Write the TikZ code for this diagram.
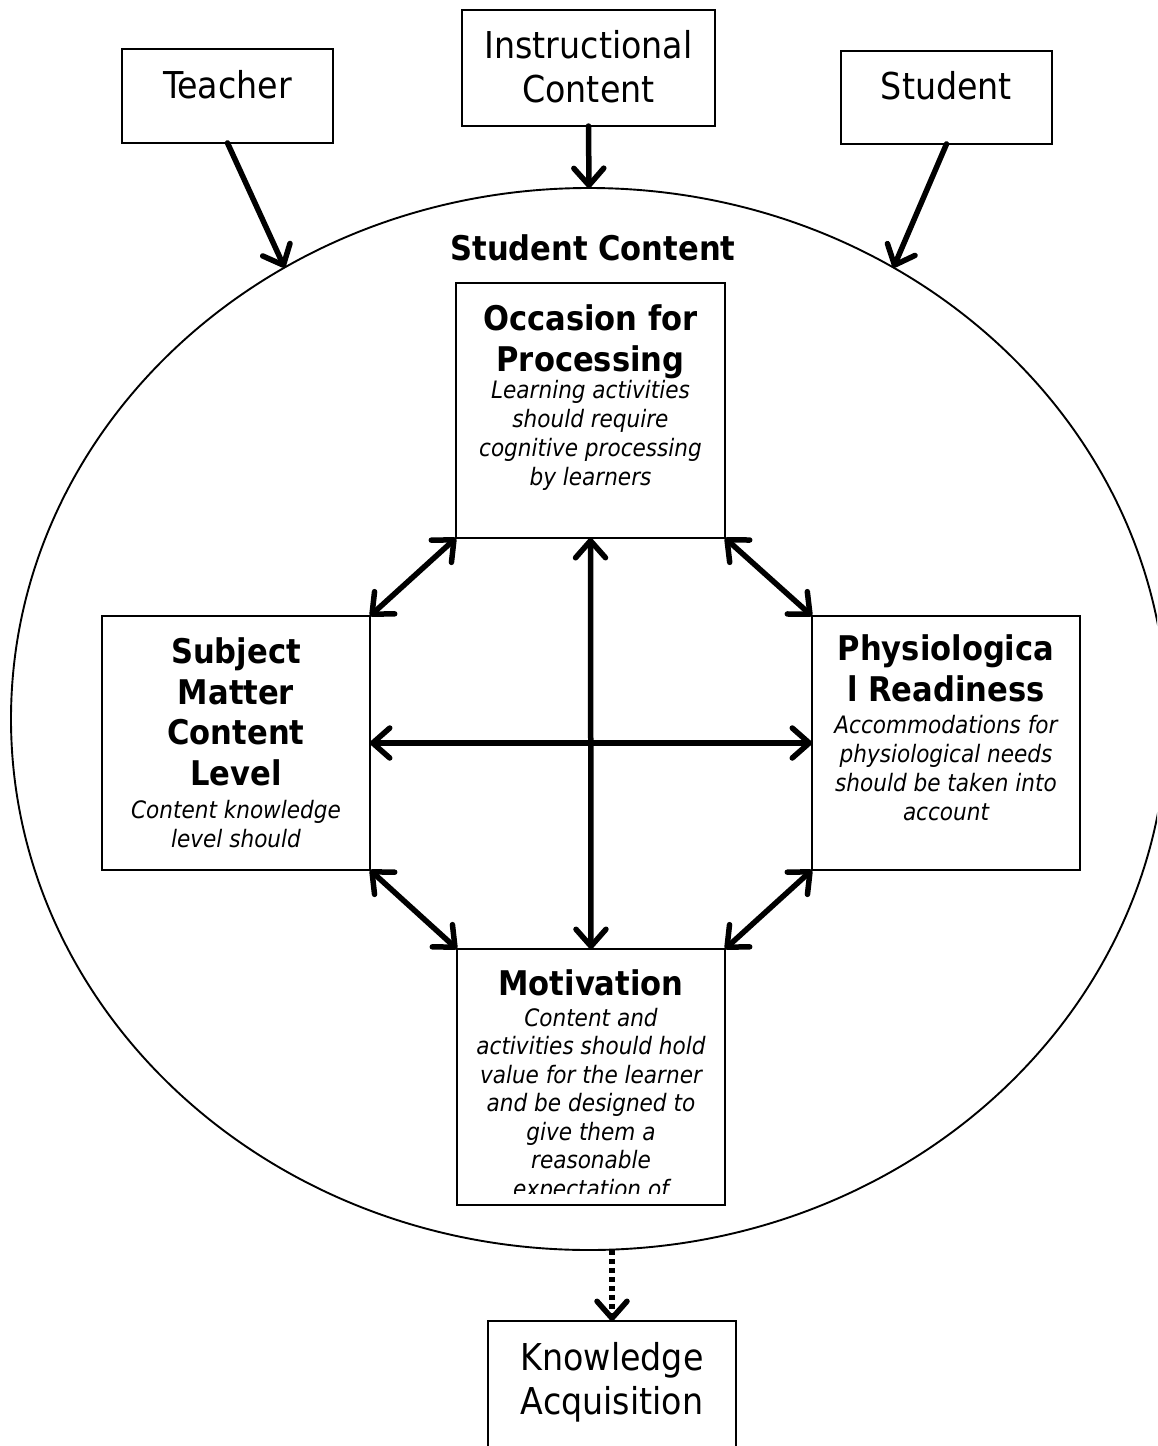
\documentclass[tikz,border=0pt]{standalone}
\usepackage{fontspec}
\setmainfont{DejaVu Sans Condensed}
\usetikzlibrary{arrows.meta,shapes.geometric}
\begin{document}
\begin{tikzpicture}[x=1pt,y=-1pt,
  box/.style={draw,line width=1.9pt,inner sep=0pt,outer sep=0pt},
  plain/.style={anchor=base,align=center,inner sep=0pt,font=\fontsize{37}{44}\selectfont},
  ttl/.style={anchor=base,align=center,inner sep=0pt,font=\bfseries\fontsize{34}{40.5}\selectfont},
  desc/.style={anchor=base,align=center,inner sep=0pt,font=\itshape\fontsize{24}{29}\selectfont},
  tip/.tip={Straight Barb[length=17pt,width=30pt,round]},
  arr/.style={line width=5.5pt,line cap=round,-tip},
  darr/.style={line width=5.5pt,line cap=round,tip-tip},
  dotarr/.style={line width=5.5pt,dash pattern=on 5pt off 4pt,-tip}]
\clip (0,0) rectangle (1157,1446);
\fill[white] (0,0) rectangle (1157,1446);
% big ellipse
\node[draw,ellipse,line width=1.9pt,inner sep=0pt,outer sep=0pt,minimum width=1156pt,minimum height=1062pt] (circ) at (589,719) {};
% top boxes
\node[box,minimum width=211pt,minimum height=94pt] (teacher) at (227.5,96) {};
\node[plain] (teacherT) at (227.5,98) {Teacher};
\node[box,minimum width=253pt,minimum height=116pt] (instr) at (588.5,68) {};
\node[plain] (instrT) at (588.5,102) {Instructional\\Content};
\node[box,minimum width=211pt,minimum height=93pt] (student) at (946.5,97.5) {};
\node[plain] (studentT) at (946.5,99) {Student};
% title
\node[anchor=base,inner sep=0pt,font=\bfseries\fontsize{34}{40}\selectfont] (sc) at (593,260) {Student Content};
% inner boxes
\node[box,minimum width=269pt,minimum height=255pt] (occ) at (590.5,410.5) {};
\node[ttl] (occT) at (590.5,371) {Occasion for\\Processing};
\node[desc] (occD) at (590.5,485) {Learning activities\\should require\\cognitive processing\\by learners};
\node[box,minimum width=268pt,minimum height=254pt] (subj) at (236,743) {};
\node[ttl] (subjT) at (236,785) {Subject\\Matter\\Content\\Level};
\node[desc] (subjD) at (236,847) {Content knowledge\\level should};
\node[box,minimum width=268pt,minimum height=254pt] (phys) at (946,743) {};
\node[ttl] (physT) at (946,701) {Physiologica\\l Readiness};
\node[desc] (physD) at (946,820) {Accommodations for\\physiological needs\\should be taken into\\account};
\node[box,minimum width=268pt,minimum height=256pt] (mot) at (591,1077) {};
\node[ttl] (motT) at (591,995) {Motivation};
\begin{scope}
\clip (458,950) rectangle (724,1193);
\node[desc,font=\itshape\fontsize{24}{28.5}\selectfont] (motD) at (591,1197) {Content and\\activities should hold\\value for the learner\\and be designed to\\give them a\\reasonable\\expectation of};
\end{scope}
% bottom box
\node[box,minimum width=248pt,minimum height=160pt] (ka) at (612,1401) {};
\node[plain] (kaT) at (612,1414) {Knowledge\\Acquisition};
% arrows into ellipse
\draw[arr] (teacher.south) -- (circ.124.4);
\draw[arr] (instr.south) -- (circ.north);
\draw[arr] (student.south) -- (circ.56.3);
% inner arrows
\draw[darr] (occ.south west) -- (subj.north east);
\draw[darr] (occ.south east) -- (phys.north west);
\draw[darr] (subj.south east) -- (mot.north west);
\draw[darr] (phys.south west) -- (mot.north east);
\draw[darr] (occ.south) -- (mot.north);
\draw[darr] (subj.east) -- (phys.west);
% dotted arrow out
\draw[dotarr] (circ.south -| ka.north) -- (ka.north);
\end{tikzpicture}
\end{document}
